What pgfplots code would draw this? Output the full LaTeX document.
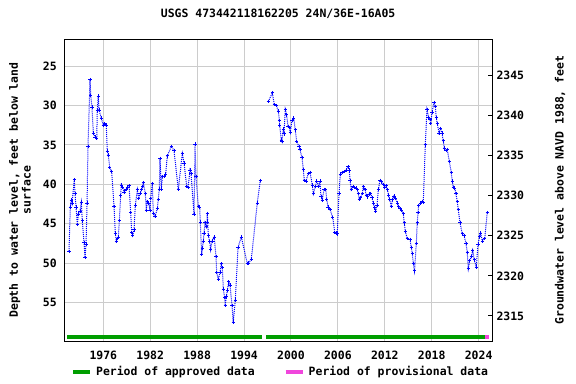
\documentclass[border=0pt]{standalone}
\usepackage{pgfplots}
\pgfplotsset{compat=1.18}
\usepackage{fontspec}
\setmainfont{DejaVu Sans Mono}
\definecolor{appr}{RGB}{0,158,0}
\definecolor{prov}{RGB}{240,70,220}
\definecolor{gridc}{RGB}{204,204,204}
\pgfplotstableread{
x y
1971.61 48.5
1971.78 42.9
1971.91 42.0
1972.00 42.4
1972.29 39.4
1972.38 41.2
1972.51 42.9
1972.68 45.1
1972.80 43.8
1973.02 43.4
1973.19 42.3
1973.31 44.6
1973.53 47.4
1973.66 49.3
1973.79 47.6
1973.92 42.4
1974.04 35.2
1974.30 26.7
1974.39 28.7
1974.55 30.2
1974.72 33.5
1974.94 34.0
1975.16 34.2
1975.23 30.6
1975.36 28.8
1975.45 30.6
1975.74 31.6
1976.00 32.5
1976.18 32.3
1976.38 32.5
1976.51 35.8
1976.64 36.3
1976.82 37.9
1977.07 38.4
1977.37 42.8
1977.53 46.2
1977.66 47.2
1977.79 46.9
1977.92 46.7
1978.05 44.6
1978.22 41.4
1978.30 40.1
1978.48 40.4
1978.65 41.0
1978.90 40.7
1979.07 40.4
1979.29 40.2
1979.50 43.6
1979.63 46.1
1979.76 46.5
1979.93 45.8
1980.09 42.7
1980.35 40.7
1980.53 41.8
1980.69 41.2
1980.86 40.7
1981.04 40.3
1981.12 39.8
1981.37 41.2
1981.50 43.3
1981.63 42.2
1981.81 42.4
1981.97 43.3
1982.06 41.8
1982.27 39.9
1982.39 43.7
1982.61 44.1
1982.91 43.1
1983.03 41.9
1983.16 40.6
1983.25 36.7
1983.42 40.6
1983.55 39.05
1983.76 39.0
1983.98 38.7
1984.18 36.4
1984.70 35.2
1985.04 35.7
1985.59 40.7
1986.10 36.1
1986.32 37.3
1986.67 40.3
1986.83 40.4
1987.09 38.2
1987.21 38.6
1987.60 43.8
1987.73 34.9
1987.85 39.05
1988.15 42.8
1988.33 42.9
1988.40 44.8
1988.58 48.9
1988.66 48.1
1988.79 47.2
1988.88 46.2
1989.01 44.9
1989.17 45.4
1989.26 44.8
1989.30 43.7
1989.43 46.5
1989.61 47.3
1989.73 48.3
1989.90 47.2
1990.19 46.7
1990.41 49.2
1990.50 51.2
1990.71 52.1
1990.92 51.2
1991.09 50.1
1991.22 50.6
1991.35 53.3
1991.52 54.4
1991.60 55.4
1991.73 54.3
1991.86 53.5
1992.04 52.4
1992.20 52.8
1992.46 55.4
1992.62 57.5
1992.88 54.7
1993.23 48.0
1993.65 46.7
1994.41 50.05
1994.59 50.0
1994.93 49.5
1995.69 42.4
1996.08 39.5
nan nan
1997.10 29.5
1997.61 28.4
1997.87 29.9
1998.12 30.0
1998.38 30.7
1998.51 31.9
1998.56 32.5
1998.76 34.4
1998.85 34.6
1999.02 33.0
1999.11 33.6
1999.27 30.5
1999.45 31.2
1999.62 32.7
1999.79 32.8
1999.91 33.4
2000.13 31.9
2000.35 31.6
2000.55 33.1
2000.73 34.6
2001.03 35.2
2001.15 35.6
2001.41 36.6
2001.58 38.1
2001.70 39.5
2001.92 39.6
2002.22 38.6
2002.43 38.5
2002.73 40.1
2002.86 41.2
2003.11 40.3
2003.29 39.6
2003.55 40.3
2003.71 39.6
2003.84 41.6
2004.01 42.0
2004.22 40.65
2004.44 40.7
2004.57 41.9
2004.73 42.9
2004.99 43.2
2005.34 44.2
2005.59 46.1
2005.76 46.2
2005.92 46.3
2006.14 41.2
2006.31 38.8
2006.53 38.5
2006.78 38.4
2007.04 38.2
2007.29 37.8
2007.46 38.2
2007.55 39.5
2007.71 40.7
2007.93 40.3
2008.10 40.4
2008.32 40.5
2008.48 40.7
2008.61 41.2
2008.74 41.9
2008.92 41.7
2009.12 41.2
2009.25 40.3
2009.47 40.65
2009.63 41.4
2009.76 41.6
2009.98 41.25
2010.20 41.2
2010.36 41.7
2010.53 42.4
2010.71 43.0
2010.83 43.4
2011.00 42.7
2011.17 40.7
2011.38 39.5
2011.55 39.7
2011.81 40.0
2011.99 40.4
2012.15 40.2
2012.32 40.7
2012.50 41.4
2012.62 41.9
2012.83 42.8
2013.01 41.9
2013.17 41.5
2013.39 41.8
2013.60 42.4
2013.78 42.8
2013.94 43.1
2014.11 43.3
2014.36 43.7
2014.49 44.9
2014.62 46.0
2014.88 46.9
2015.22 47.0
2015.39 48.0
2015.52 48.8
2015.64 50.05
2015.80 51.0
2016.03 47.5
2016.15 44.9
2016.24 43.6
2016.33 42.7
2016.59 42.4
2016.79 42.2
2016.92 42.35
2017.18 35.0
2017.39 30.5
2017.61 31.5
2017.78 31.8
2017.87 32.3
2018.03 30.9
2018.29 29.6
2018.46 30.1
2018.58 31.5
2018.71 32.3
2018.93 33.5
2019.15 32.9
2019.31 33.5
2019.48 34.5
2019.61 35.4
2019.82 35.7
2019.99 35.6
2020.25 37.1
2020.50 38.5
2020.63 39.6
2020.76 40.4
2020.94 40.5
2021.10 41.2
2021.27 42.2
2021.40 43.2
2021.62 44.9
2021.91 46.3
2022.13 46.5
2022.38 47.5
2022.55 48.7
2022.68 50.7
2022.86 49.7
2023.06 49.2
2023.24 48.4
2023.44 49.6
2023.70 50.5
2023.92 47.6
2024.14 46.6
2024.26 46.2
2024.47 47.2
2024.78 46.9
2025.10 43.6
}\levels
\begin{document}
\begin{tikzpicture}
\begin{axis}[
  at={(64.3bp,43bp)}, anchor=south west,
  scale only axis, width=427.7bp, height=301.7bp,
  xmin=1971.01, xmax=2025.71,
  ymin=21.6, ymax=59.9, y dir=reverse,
  unbounded coords=jump,
  font=\fontsize{11.5}{13}\selectfont\bfseries,
  /pgf/number format/assume math mode=true,
  xtick={1976,1982,1988,1994,2000,2006,2012,2018,2024},
  xticklabels={1976,1982,1988,1994,2000,2006,2012,2018,2024},
  ytick={25,30,35,40,45,50,55},
  major tick length=0pt,
  grid=major,
  major grid style={gridc, line width=1bp},
  axis line style={black, line width=1bp},
  xticklabel style={yshift=-6.5bp},
  yticklabel style={xshift=-4bp},
  title={USGS 473442118162205 24N/36E-16A05},
  title style={at={(axis description cs:0.5,1.064)}, anchor=center},
  ylabel={Depth to water level, feet below land\\surface},
  ylabel style={align=center, at={(axis description cs:-0.1036,0.5)}, anchor=center},
  legend columns=2,
  legend style={draw=none, fill=none, at={(axis description cs:0.5057,-0.1027)}, anchor=center,
    font=\fontsize{11.5}{13}\selectfont\bfseries, /tikz/every even column/.append style={column sep=27bp},
    /tikz/every odd column/.append style={}},
  legend cell align=left,
  legend image code/.code={\draw[#1, line width=4bp] (0bp,0bp) -- (17bp,0bp);},
]
\addplot[blue, line width=1bp, densely dotted, mark=+, mark size=1.7bp, mark options={solid, line width=0.9bp}, forget plot] table[x=x,y=y] {\levels};
\addplot[appr, line width=4bp, forget plot] coordinates {(1971.36,59.4) (1996.26,59.4)};
\addplot[appr, line width=4bp, forget plot] coordinates {(1996.81,59.4) (2024.81,59.4)};
\addplot[prov, line width=4bp, forget plot] coordinates {(2024.81,59.4) (2025.32,59.4)};
\addlegendimage{appr}
\addlegendentry{\hspace{2bp}Period of approved data}
\addlegendimage{prov}
\addlegendentry{\hspace{2bp}Period of provisional data}
\end{axis}
\begin{axis}[
  at={(64.3bp,43bp)}, anchor=south west,
  scale only axis, width=427.7bp, height=301.7bp,
  xmin=1971.01, xmax=2025.71,
  ymin=2311.88, ymax=2349.49,
  axis x line=none, axis y line*=right,
  font=\fontsize{11.5}{13}\selectfont\bfseries,
  /pgf/number format/assume math mode=true,
  /pgf/number format/1000 sep={},
  ytick={2315,2320,2325,2330,2335,2340,2345},
  tick align=inside, major tick length=4bp,
  tick style={black, line width=1bp},
  axis line style={black, line width=1bp},
  yticklabel style={xshift=1bp},
  ylabel={Groundwater level above NAVD 1988, feet},
  ylabel style={at={(axis description cs:1.159,0.5)}, anchor=center, rotate=0},
]
\addplot[draw=none, forget plot] coordinates {(1980,2330)};
\end{axis}
\pgfresetboundingbox
\path[use as bounding box] (0,0) rectangle (576bp,384bp);
\end{tikzpicture}
\end{document}
